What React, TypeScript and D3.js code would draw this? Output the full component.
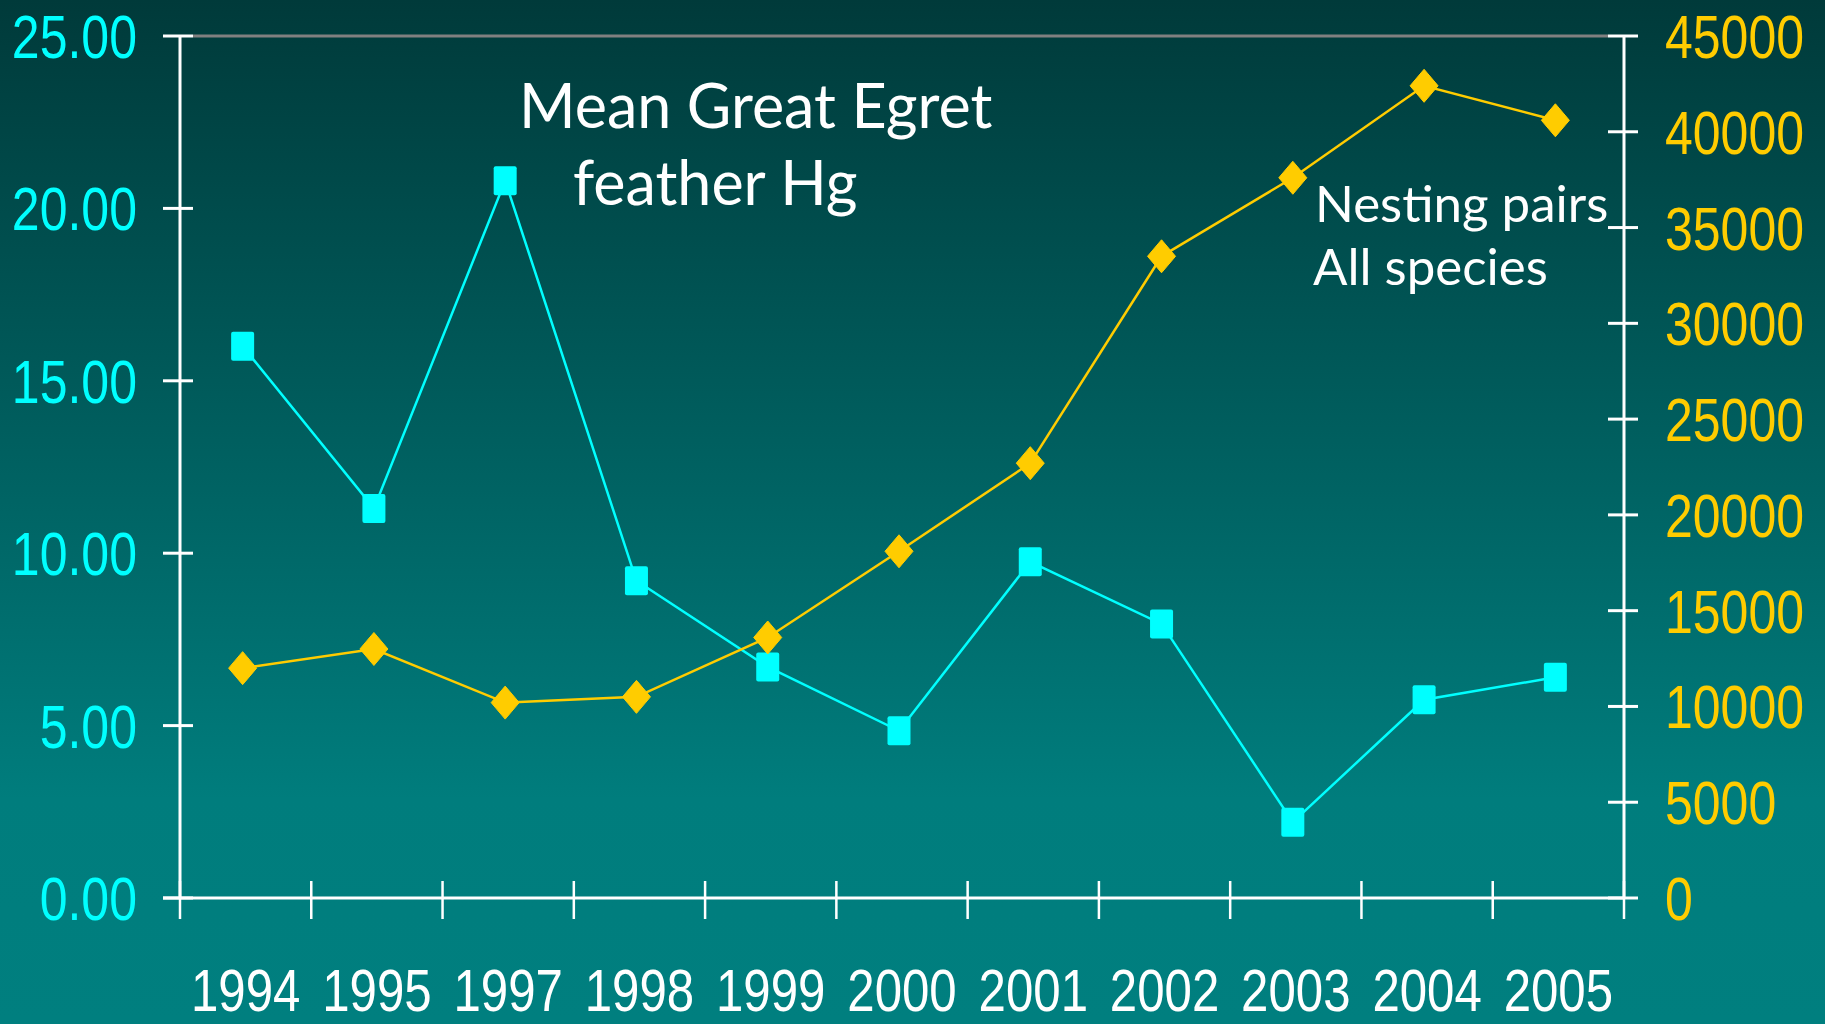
import * as d3 from 'd3';
import React from 'react';

const years = ['1994', '1995', '1997', '1998', '1999', '2000', '2001', '2002', '2003', '2004', '2005'];
const egretHg = [16.0, 11.3, 20.8, 9.2, 6.7, 4.85, 9.75, 7.95, 2.2, 5.75, 6.4];
const nestingPairs = [12000, 13000, 10200, 10500, 13600, 18100, 22700, 33500, 37600, 42400, 40600];
const hgTicks = [0, 5, 10, 15, 20, 25];
const pairTicks = [0, 5000, 10000, 15000, 20000, 25000, 30000, 35000, 40000, 45000];

const App = (): React.ReactElement => {
    const width = 1825;
    const height = 1024;
    const chartRef = React.useRef<SVGSVGElement>(null);

    React.useEffect(() => {
        const svg = d3.select(chartRef.current);
        svg.selectAll('*').remove();

        const left = 180;
        const right = 1624;
        const top = 36;
        const bottom = 898;
        // Narrow tick font: Liberation Sans squeezed to Arial Narrow proportions.
        const squeeze = 0.82;

        const xScale = d3.scaleBand<string>().domain(years).range([left, right]);
        const yLeft = d3.scaleLinear().domain([0, 25]).range([bottom, top]);
        const yRight = d3.scaleLinear().domain([0, 45000]).range([bottom, top]);
        // Points sit a touch left of the band centre in the original.
        const cx = (d: string) => (xScale(d) as number) + xScale.bandwidth() / 2 - 3;
        const labelX = (d: string) => (xScale(d) as number) + xScale.bandwidth() / 2;

        // Background gradient.
        const grad = svg.append('defs').append('linearGradient')
            .attr('id', 'bg').attr('x1', 0).attr('y1', 0).attr('x2', 0).attr('y2', 1);
        grad.append('stop').attr('offset', 0).attr('stop-color', '#003a3a');
        grad.append('stop').attr('offset', 0.78).attr('stop-color', '#007d7d');
        grad.append('stop').attr('offset', 1).attr('stop-color', '#007f7f');
        svg.append('rect').attr('width', width).attr('height', height).attr('fill', 'url(#bg)');

        // Top border line.
        svg.append('line')
            .attr('x1', left + 13).attr('x2', right - 16).attr('y1', top).attr('y2', top)
            .attr('stroke', '#808080').attr('stroke-width', 3);

        const tickFont = "'Liberation Sans', Arial, sans-serif";

        // Left axis.
        svg.append('line').attr('x1', left).attr('x2', left).attr('y1', top).attr('y2', bottom)
            .attr('stroke', '#fff').attr('stroke-width', 3);
        svg.selectAll('.ltick').data(hgTicks).enter().append('line')
            .attr('x1', left - 17).attr('x2', left + 13)
            .attr('y1', (d) => yLeft(d)).attr('y2', (d) => yLeft(d))
            .attr('stroke', '#fff').attr('stroke-width', 3);
        svg.selectAll('.llab').data(hgTicks).enter().append('text')
            .attr('transform', (d) => `translate(137,${yLeft(d)}) scale(${squeeze},1)`)
            .attr('dy', '0.36em')
            .attr('text-anchor', 'end').attr('fill', '#00ffff')
            .style('font-family', tickFont).style('font-size', '61px')
            .text((d) => d3.format('.2f')(d));

        // Right axis.
        svg.append('line').attr('x1', right).attr('x2', right).attr('y1', top).attr('y2', bottom)
            .attr('stroke', '#fff').attr('stroke-width', 3);
        svg.selectAll('.rtick').data(pairTicks).enter().append('line')
            .attr('x1', right - 16).attr('x2', right + 14)
            .attr('y1', (d) => yRight(d)).attr('y2', (d) => yRight(d))
            .attr('stroke', '#fff').attr('stroke-width', 3);
        svg.selectAll('.rlab').data(pairTicks).enter().append('text')
            .attr('transform', (d) => `translate(1665,${yRight(d)}) scale(${squeeze},1)`)
            .attr('dy', '0.36em')
            .attr('fill', '#ffcc00')
            .style('font-family', tickFont).style('font-size', '61px')
            .text((d) => String(d));

        // X axis.
        svg.append('line').attr('x1', left - 17).attr('x2', right).attr('y1', bottom).attr('y2', bottom)
            .attr('stroke', '#fff').attr('stroke-width', 3);
        const bounds = years.map((y) => xScale(y) as number).concat([right]);
        svg.selectAll('.xtick').data(bounds).enter().append('line')
            .attr('x1', (d) => d).attr('x2', (d) => d).attr('y1', bottom - 17).attr('y2', bottom + 21)
            .attr('stroke', '#fff').attr('stroke-width', 2.5);
        svg.selectAll('.xlab').data(years).enter().append('text')
            .attr('transform', (d) => `translate(${labelX(d)},1011) scale(${squeeze},1)`)
            .attr('text-anchor', 'middle').attr('fill', '#fff')
            .style('font-family', tickFont).style('font-size', '60px')
            .text((d) => d);

        // Mercury series.
        const hgLine = d3.line<number>().x((_, i) => cx(years[i])).y((d) => yLeft(d));
        svg.append('path').attr('d', hgLine(egretHg)).attr('fill', 'none')
            .attr('stroke', '#00ffff').attr('stroke-width', 2.5);
        svg.selectAll('.hgpt').data(egretHg).enter().append('rect')
            .attr('x', (_, i) => cx(years[i]) - 11.5).attr('y', (d) => yLeft(d) - 14.5)
            .attr('width', 23).attr('height', 29).attr('rx', 2)
            .attr('fill', '#00ffff');

        // Nesting pairs series.
        const pairLine = d3.line<number>().x((_, i) => cx(years[i])).y((d) => yRight(d));
        svg.append('path').attr('d', pairLine(nestingPairs)).attr('fill', 'none')
            .attr('stroke', '#ffcc00').attr('stroke-width', 2.5);
        svg.selectAll('.prpt').data(nestingPairs).enter().append('path')
            .attr('d', (d, i) => {
                const x = cx(years[i]);
                const y = yRight(d);
                return `M${x},${y - 16.5}L${x + 14},${y}L${x},${y + 16.5}L${x - 14},${y}Z`;
            })
            .attr('fill', '#ffcc00').attr('stroke', '#ffcc00').attr('stroke-linejoin', 'round');

        // Annotations.
        const noteFont = "Lato, 'Open Sans', sans-serif";
        const title = svg.append('text').attr('fill', '#fff')
            .style('font-family', noteFont).style('font-size', '61px');
        title.append('tspan').attr('x', 519).attr('y', 128).text('Mean Great Egret');
        title.append('tspan').attr('x', 573).attr('y', 205).text('feather Hg');
        const note = svg.append('text').attr('fill', '#fff')
            .style('font-family', noteFont).style('font-size', '51px');
        note.append('tspan').attr('x', 1315).attr('y', 222).text('Nesting pairs');
        note.append('tspan').attr('x', 1313).attr('y', 285).text('All species');
    }, []);

    return (
        <div>
            <svg ref={chartRef} width={width} height={height}
                style={{ position: 'absolute', left: 0, top: 0, display: 'block' }}></svg>
        </div>
    );
};

export default App;
